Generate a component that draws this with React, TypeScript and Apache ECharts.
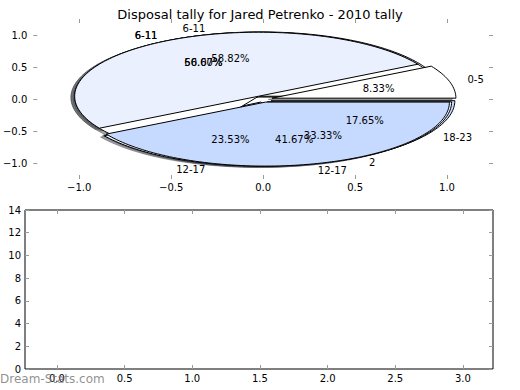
import React, { useEffect, useRef } from "react";
import * as echarts from "echarts";

// ---- data ----
const titleText = "Disposal tally for Jared Petrenko - 2010 tally";
// three pies overlaid on one axes (drawn in this order; last is on top)
const pieALabels = ["6-11", "12-17", "18-23"];
const pieAValues = [10, 4, 3];
const pieCLabels = ["6-11", "2"];
const pieCValues = [2, 1];
const pieBLabels = ["0-5", "6-11", "12-17"];
const pieBValues = [1, 6, 5];
const sliceColors = ["#ffffff", "#eaf0fe", "#c6d9fe"];

const pieTicks = [-1, -0.5, 0, 0.5, 1];
const barXTicks = [0, 0.5, 1, 1.5, 2, 2.5, 3];
const watermark = "Dream-Stats.com";

const FONT = "DejaVu Sans";
const EXPLODE = 0.05;
const PCTDIST = 0.6;
const LABELDIST = 1.1;
const SHADOW_OFF = -0.02;

type Wedge = {
  t1: number;
  t2: number;
  ox: number;
  oy: number;
  color: string;
  label: string;
  pct: string;
  mid: number;
};

function buildWedges(): Wedge[] {
  const pies = [
    { labels: pieALabels, values: pieAValues },
    { labels: pieCLabels, values: pieCValues },
    { labels: pieBLabels, values: pieBValues },
  ];
  const out: Wedge[] = [];
  pies.forEach((p) => {
    const total = p.values.reduce((s, v) => s + v, 0);
    let acc = 0;
    p.values.forEach((v, i) => {
      const t1 = (acc / total) * 360;
      acc += v;
      const t2 = (acc / total) * 360;
      const mid = ((t1 + t2) / 2) * (Math.PI / 180);
      out.push({
        t1,
        t2,
        mid,
        ox: EXPLODE * Math.cos(mid),
        oy: EXPLODE * Math.sin(mid),
        color: sliceColors[i],
        label: p.labels[i],
        pct: ((v / total) * 100).toFixed(2) + "%",
      });
    });
  });
  return out;
}

function shadowColor(hex: string) {
  const r = parseInt(hex.slice(1, 3), 16);
  const g = parseInt(hex.slice(3, 5), 16);
  const b = parseInt(hex.slice(5, 7), 16);
  return `rgba(${Math.round(r * 0.3)},${Math.round(g * 0.3)},${Math.round(b * 0.3)},0.5)`;
}

function wedgePoints(api: any, w: Wedge, dx: number, dy: number) {
  const cx = w.ox + dx;
  const cy = w.oy + dy;
  const pts: number[][] = [api.coord([cx, cy])];
  const n = Math.max(6, Math.ceil((w.t2 - w.t1) / 1.5));
  for (let k = 0; k <= n; k++) {
    const t = ((w.t1 + ((w.t2 - w.t1) * k) / n) * Math.PI) / 180;
    pts.push(api.coord([cx + Math.cos(t), cy + Math.sin(t)]));
  }
  return pts;
}

const fmt1 = (v: number) => (v < 0 ? "\u2212" + Math.abs(v).toFixed(1) : v.toFixed(1));

export default function App() {
  const ref = useRef<HTMLDivElement>(null);
  useEffect(() => {
    if (!ref.current) return;
    const chart = echarts.init(ref.current, undefined, { renderer: "svg" });
    const wedges = buildWedges();
    const idxData = wedges.map((_, i) => [0, 0, i]);

    const tickStyle = { color: "#9a9a9a", width: 1 };
    const labelStyle = { fontSize: 10, color: "#000", fontFamily: FONT };
    const noLine = { show: false, onZero: false };

    const option: any = {
      animation: false,
      backgroundColor: "#ffffff",
      title: {
        text: titleText,
        left: "center",
        top: 3,
        textStyle: { fontSize: 13, fontWeight: "normal", color: "#000", fontFamily: FONT },
      },
      grid: [
        { left: 27, top: 19, width: 466, height: 160, show: false },
        { left: 25, top: 210, width: 468, height: 159, show: true, borderColor: "#000", borderWidth: 1, backgroundColor: "transparent" },
      ],
      xAxis: [
        {
          gridIndex: 0, type: "value", min: -1.25, max: 1.25, position: "bottom",
          axisLine: noLine,
          axisTick: { show: true, inside: true, length: 4, lineStyle: tickStyle, customValues: pieTicks },
          axisLabel: { ...labelStyle, margin: 3, customValues: pieTicks, formatter: fmt1 },
          splitLine: { show: false },
        },
        {
          gridIndex: 0, type: "value", min: -1.25, max: 1.25, position: "top",
          axisLine: noLine,
          axisTick: { show: true, inside: true, length: 4, lineStyle: tickStyle, customValues: pieTicks },
          axisLabel: { show: false },
          splitLine: { show: false },
        },
        {
          gridIndex: 1, type: "value", min: -0.236, max: 3.222, position: "bottom",
          axisLine: noLine,
          axisTick: { show: true, inside: true, length: 4, lineStyle: tickStyle, customValues: barXTicks },
          axisLabel: { ...labelStyle, margin: 4, customValues: barXTicks, formatter: fmt1 },
          splitLine: { show: false },
        },
        {
          gridIndex: 1, type: "value", min: -0.236, max: 3.222, position: "top",
          axisLine: noLine,
          axisTick: { show: true, inside: true, length: 4, lineStyle: tickStyle, customValues: barXTicks },
          axisLabel: { show: false },
          splitLine: { show: false },
        },
      ],
      yAxis: [
        {
          gridIndex: 0, type: "value", min: -1.25, max: 1.25, position: "left",
          axisLine: noLine,
          axisTick: { show: true, inside: true, length: 4, lineStyle: tickStyle, customValues: pieTicks },
          axisLabel: { ...labelStyle, margin: 6, customValues: pieTicks, formatter: fmt1 },
          splitLine: { show: false },
        },
        {
          gridIndex: 0, type: "value", min: -1.25, max: 1.25, position: "right",
          axisLine: noLine,
          axisTick: { show: true, inside: true, length: 4, lineStyle: tickStyle, customValues: pieTicks },
          axisLabel: { show: false },
          splitLine: { show: false },
        },
        {
          gridIndex: 1, type: "value", min: 0, max: 14, interval: 2, position: "left",
          axisLine: noLine,
          axisTick: { show: true, inside: true, length: 4, lineStyle: tickStyle },
          axisLabel: { ...labelStyle, margin: 4 },
          splitLine: { show: false },
        },
        {
          gridIndex: 1, type: "value", min: 0, max: 14, interval: 2, position: "right",
          axisLine: noLine,
          axisTick: { show: true, inside: true, length: 4, lineStyle: tickStyle },
          axisLabel: { show: false },
          splitLine: { show: false },
        },
      ],
      series: [
        {
          type: "custom",
          name: "shadows",
          xAxisIndex: 0,
          yAxisIndex: 0,
          z: 1,
          clip: false,
          data: idxData,
          encode: { x: 0, y: 1 },
          renderItem: (params: any, api: any) => {
            const w = wedges[params.dataIndex];
            const c = shadowColor(w.color);
            return {
              type: "polygon",
              shape: { points: wedgePoints(api, w, SHADOW_OFF, SHADOW_OFF) },
              style: { fill: c, stroke: c, lineWidth: 1 },
            };
          },
        },
        {
          type: "custom",
          name: "wedges",
          xAxisIndex: 0,
          yAxisIndex: 0,
          z: 2,
          clip: false,
          data: idxData,
          encode: { x: 0, y: 1 },
          renderItem: (params: any, api: any) => {
            const w = wedges[params.dataIndex];
            return {
              type: "polygon",
              shape: { points: wedgePoints(api, w, 0, 0) },
              style: { fill: w.color, stroke: "#000", lineWidth: 1, lineJoin: "miter" },
            };
          },
        },
        {
          type: "custom",
          name: "texts",
          xAxisIndex: 0,
          yAxisIndex: 0,
          z: 3,
          clip: false,
          data: idxData,
          encode: { x: 0, y: 1 },
          renderItem: (params: any, api: any) => {
            const w = wedges[params.dataIndex];
            const lx = w.ox + LABELDIST * Math.cos(w.mid);
            const ly = w.oy + LABELDIST * Math.sin(w.mid);
            const px = w.ox + PCTDIST * Math.cos(w.mid);
            const py = w.oy + PCTDIST * Math.sin(w.mid);
            const lp = api.coord([lx, ly]);
            const pp = api.coord([px, py]);
            return {
              type: "group",
              children: [
                {
                  type: "text",
                  x: lp[0],
                  y: lp[1],
                  style: {
                    text: w.label,
                    fill: "#000",
                    font: `10px "${FONT}"`,
                    align: lx > 0 ? "left" : "right",
                    verticalAlign: "middle",
                  },
                },
                {
                  type: "text",
                  x: pp[0],
                  y: pp[1],
                  style: {
                    text: w.pct,
                    fill: "#000",
                    font: `10px "${FONT}"`,
                    align: "center",
                    verticalAlign: "middle",
                  },
                },
              ],
            };
          },
        },
      ],
      graphic: [
        {
          type: "text",
          left: 0,
          top: 373,
          z: 100,
          style: { text: watermark, fill: "rgba(125,125,125,0.85)", font: `12px "${FONT}"` },
        },
      ],
    };
    chart.setOption(option);
    return () => chart.dispose();
  }, []);
  return (
    <div
      ref={ref}
      style={{ position: "fixed", left: 0, top: 0, width: 520, height: 390, background: "#fff" }}
    />
  );
}
